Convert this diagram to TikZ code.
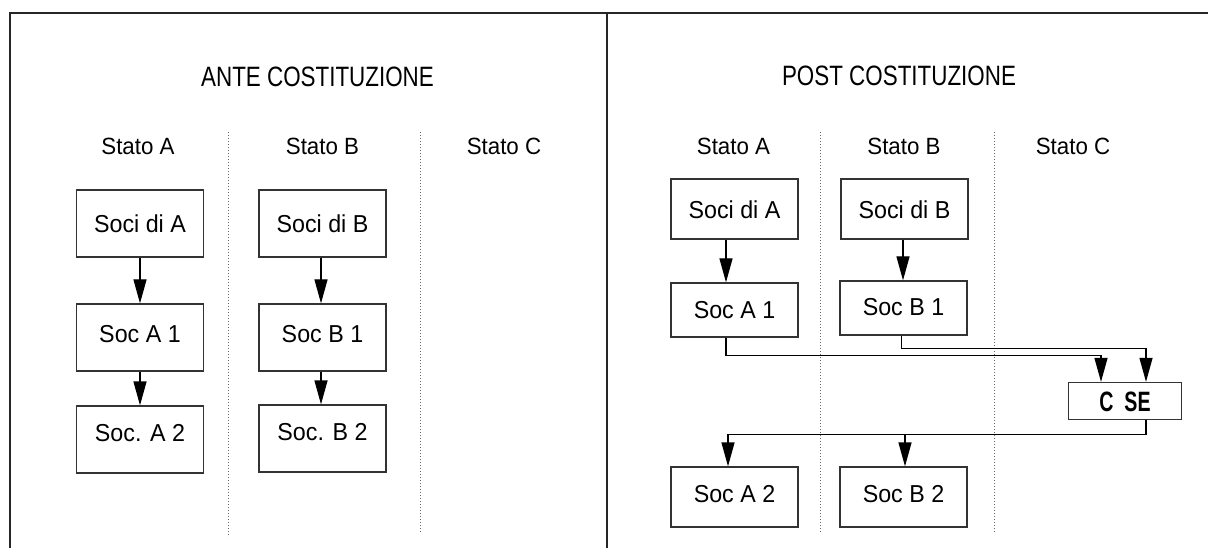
\documentclass[tikz,border=0pt]{standalone}
\usepackage{fontspec}
\setmainfont{Liberation Sans}
\newfontfamily\bodyfont[FakeStretch=0.95]{Liberation Sans}
\newfontfamily\titlefont[FakeStretch=0.8]{Liberation Sans}
\newfontfamily\csefont[FakeStretch=0.7]{Liberation Sans}
\usetikzlibrary{arrows.meta}
\begin{document}
\begin{tikzpicture}[x=1pt,y=-1pt,
  frame/.style={line width=1.5pt, draw=black!85},
  sep/.style={draw=black!60, line width=1pt, dash pattern=on 1pt off 2pt},
  box/.style={draw=black!80, line width=1.3pt, minimum width=127pt, inner sep=0pt,
              font=\fontsize{24.5}{28}\selectfont\bodyfont, text height=20pt},
  arr/.style={draw=black, line width=1.3pt, -{Triangle[length=24pt,width=13pt]}},
  ttl/.style={anchor=base, font=\fontsize{28}{32}\selectfont\titlefont},
  stato/.style={anchor=base, font=\fontsize{23.5}{28}\selectfont\bodyfont},
]
\useasboundingbox (0,0) rectangle (1208,548);

% frame
\draw[frame] (1208,13) -- (10,13) -- (10,548);
\draw[frame] (607,13) -- (607,548);

% separators
\draw[sep] (228,132) -- (228,537);
\draw[sep] (420,132) -- (420,533);
\draw[sep] (820,132) -- (820,533);
\draw[sep] (994,132) -- (994,533);

% titles
\node[ttl] (tl) at (317.5,86.5) {ANTE COSTITUZIONE};
\node[ttl] (tr) at (899,86) {POST COSTITUZIONE};

\node[stato] (lsa) at (138,155) {Stato A};
\node[stato] (lsb) at (322.5,155) {Stato B};
\node[stato] (lsc) at (504,155) {Stato C};
\node[stato] (rsa) at (733.5,155) {Stato A};
\node[stato] (rsb) at (904,155) {Stato B};
\node[stato] (rsc) at (1073,155) {Stato C};

% left boxes
\node[box, minimum height=67pt, text depth=1pt] (lSociA) at (140,223.5) {Soci di A};
\node[box, minimum height=67pt, text depth=10pt] (lSocA1) at (140,337.5) {Soc A 1};
\node[box, minimum height=67pt, text depth=16pt] (lSocA2) at (140,439.5) {Soc. A 2};
\node[box, minimum height=67pt, text depth=1pt] (lSociB) at (322.5,223.5) {Soci di B};
\node[box, minimum height=67pt, text depth=10pt] (lSocB1) at (322.5,337.5) {Soc B 1};
\node[box, minimum height=67pt, text depth=16pt] (lSocB2) at (322.5,438.5) {Soc. B 2};

\draw[arr] (lSociA) -- (lSocA1);
\draw[arr] (lSocA1) -- (lSocA2);
\draw[arr] ([xshift=-1.5pt]lSociB.south) -- ([xshift=-1.5pt]lSocB1.north);
\draw[arr] ([xshift=-1.5pt]lSocB1.south) -- ([xshift=-1.5pt]lSocB2.north);

% right boxes
\node[box, minimum height=60pt, text depth=0pt] (rSociA) at (734.5,209) {Soci di A};
\node[box, minimum height=60pt, text depth=0pt] (rSociB) at (904.5,209) {Soci di B};
\node[box, minimum height=54pt, text depth=4pt] (rSocA1) at (734.5,310) {Soc A 1};
\node[box, minimum height=54pt, text depth=4pt] (rSocB1) at (903.5,308) {Soc B 1};
\node[box, minimum height=60pt, text depth=10pt] (rSocA2) at (734.5,497) {Soc A 2};
\node[box, minimum height=60pt, text depth=10pt] (rSocB2) at (903.5,497) {Soc B 2};
\node[box, minimum width=113pt, minimum height=37pt, text depth=-1pt,
      font=\fontsize{28}{30}\selectfont\csefont\bfseries] (cse) at (1125,401) {C\ \ SE};

\draw[arr] ([xshift=-8.5pt]rSociA.south) -- ([xshift=-8.5pt]rSocA1.north);
\draw[arr] ([xshift=-1.5pt]rSociB.south) -- ([xshift=-0.5pt]rSocB1.north);

\draw[arr] ([xshift=-8.5pt]rSocA1.south) -- ++(0,18) -| ([xshift=-24pt]cse.north);
\draw[arr] ([xshift=-1.8pt]rSocB1.south) -- ++(0,13) -| ([xshift=21pt]cse.north);

\draw[arr] ([xshift=21pt]cse.south) -- ++(0,14) -| ([xshift=-6.5pt]rSocA2.north);
\draw[arr] ([xshift=21pt]cse.south) -- ++(0,14) -| ([xshift=1.5pt]rSocB2.north);
\end{tikzpicture}
\end{document}
